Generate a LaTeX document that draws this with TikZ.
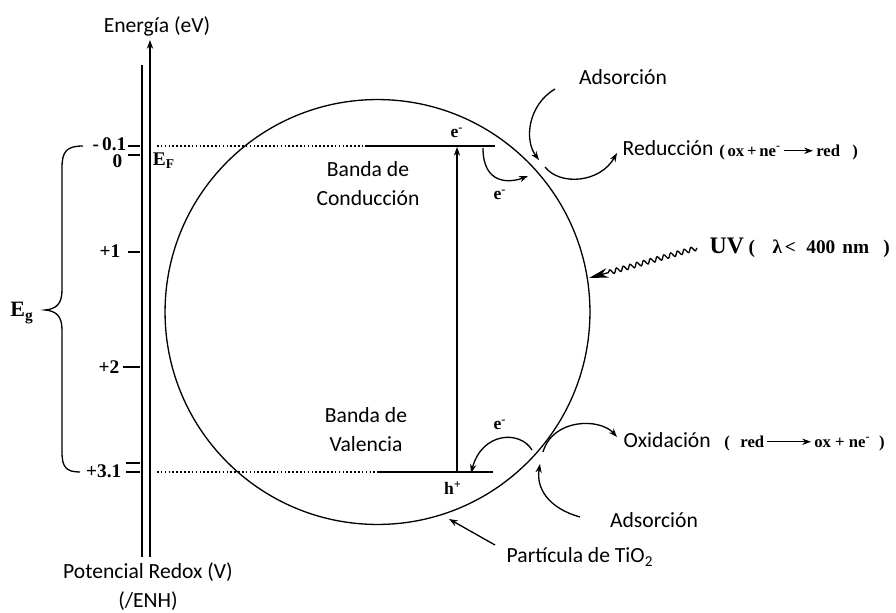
\documentclass[tikz,border=0pt]{standalone}
\usepackage{fontspec}
\setmainfont{Carlito}
\newfontfamily\timesfont{Liberation Serif}
\usetikzlibrary{positioning,arrows.meta,decorations.pathmorphing}

\begin{document}
\begin{tikzpicture}[x=0.02cm,y=-0.02cm,line width=0.75pt,
  txt/.style={font=\fontsize{12.3}{16.5}\selectfont,align=center},
  num/.style={font=\timesfont\bfseries\fontsize{11}{13}\selectfont,inner sep=0pt},
  chg/.style={font=\timesfont\bfseries\fontsize{10}{12}\selectfont,inner sep=0pt},
  eqn/.style={font=\timesfont\bfseries\fontsize{9.5}{11}\selectfont,inner xsep=1.5pt,inner ysep=0pt,text height=1.5ex,text depth=0.25ex},
  tip/.style={-{Stealth[length=5pt,width=3.6pt]}},
  level/.style={dash pattern=on 0.9pt off 1.3pt,line width=0.6pt}]

\useasboundingbox (0,0) rectangle (896,612);

  % Draw axes
  \coordinate (axbot) at (150,557);
  \coordinate (axtop) at (150,40);
  \draw[tip] (axbot) -- (axtop);
  \draw (142,65) -- (142,557);
  \node[txt] (energy) at (157,26) {Energía (eV)};
  \node[txt] (redox) at (148,587) {Potencial Redox (V)\\(/ENH)};
  % ticks and values
  \foreach \y/\xa in {146/128,155/128,252/128,367/123,463/126,472/126}
    \draw (\xa,\y) -- (140,\y);
  \node[num,anchor=east] (vm01) at (127,144) {-\,0.1};
  \node[num,anchor=east] (vzero) at (123,161) {0};
  \node[num,anchor=east] (vone) at (121,251) {+1};
  \node[num,anchor=east] (vtwo) at (120,367) {+2};
  \node[num,anchor=east] (vthree) at (122,471) {+3.1};
  \node[num] (ef) at (164,161) {E\textsubscript{F}};
  % band gap brace
  \draw (83,146) .. controls (66,146) and (62,152) .. (62,168) -- (62,290)
        .. controls (62,303) and (57,309) .. (45,310)
        .. controls (57,311) and (62,317) .. (62,330) -- (62,452)
        .. controls (62,467) and (66,472) .. (80,472);
  \node[num,font=\timesfont\bfseries\fontsize{12.5}{14}\selectfont] (eg) at (22,313) {E\textsubscript{g}};

  % draw particle
  \node[draw,circle,minimum size=8.5cm,inner sep=0pt] (tio2) at (377.5,312) {};

  % bands
  \coordinate (cbL) at (157,146);
  \coordinate (cbM) at (365,146);
  \coordinate (cbR) at (495,146);
  \draw[level] (cbL) -- (cbM);
  \draw (cbM) -- (cbR);
  \coordinate (vbL) at (157,472);
  \coordinate (vbM) at (377,472);
  \coordinate (vbR) at (493,472);
  \draw[level] (vbL) -- (vbM);
  \draw (vbM) -- (vbR);
  \coordinate (exbot) at (457,472);
  \coordinate (extop) at (457,147);
  \draw[tip] (exbot) -- (extop);
  \node[txt] (cb) at (368,184) {Banda de\\Conducción};
  \node[txt] (vb) at (366,430) {Banda de\\Valencia};
  \node[chg] (ecb) at (457,133) {e\textsuperscript{-}};
  \node[chg] (ecbout) at (500,195) {e\textsuperscript{-}};
  \node[chg] (evb) at (500,425) {e\textsuperscript{-}};
  \node[chg] (hvb) at (453,488) {h\textsuperscript{+}};

  % electron transfer
  \coordinate (cbgo) at (483,148);
  \coordinate (cbout) at (528,176);
  \draw[tip] (cbgo) .. controls (483,185) and (510,183) .. (cbout);
  \coordinate (vbin) at (532,450);
  \coordinate (vbgo) at (471,473);
  \draw[tip] (vbin) .. controls (520,430) and (482,432) .. (vbgo);

  % reduction
  \node[txt] (adsred) at (623,77) {Adsorción};
  \coordinate (adsredA) at (555,89);
  \coordinate (adsredB) at (539,160);
  \draw[tip] (adsredA) .. controls (528,105) and (524,140) .. (adsredB);
  \coordinate (redA) at (545,167);
  \coordinate (redB) at (617,153);
  \draw[tip] (redA) .. controls (560,186) and (600,183) .. (redB);
  \node[txt,anchor=base west,inner sep=0pt] (redtxt) at (622,155) {Reducción};
  \node[eqn,anchor=base west] (redlhs) at (716,156) {(\,ox\,+\,ne\textsuperscript{-}};
  \node[eqn,anchor=base west] (redrhs) at (813,156) {red\hspace{7pt})};
  \draw[tip] (redlhs) -- (redrhs);

  % light
  \node[font=\timesfont\bfseries\fontsize{13.5}{16}\selectfont,anchor=base west,inner sep=0pt] (uv) at (709,253) {UV};
  \node[font=\timesfont\bfseries\fontsize{11}{13}\selectfont,anchor=base west,inner sep=0pt] (lam) at (748,253)
    {(\hspace{10pt}λ\hspace{1.5pt}<\hspace{6pt}400\hspace{4pt}nm\hspace{8pt})};
  \coordinate (uvA) at (697,248);
  \coordinate (uvB) at (589,278);
  \draw[decorate,decoration={snake,amplitude=1.3pt,segment length=4pt,post length=11pt},
        -{Stealth[length=11pt,width=5.5pt]}] (uvA) -- (uvB);

  % oxidation
  \coordinate (oxA) at (543,452);
  \coordinate (oxB) at (617,437);
  \draw[tip] (oxA) .. controls (553,418) and (600,418) .. (oxB);
  \node[txt,anchor=base west,inner sep=0pt] (oxtxt) at (623,447) {Oxidación};
  \node[eqn,anchor=base west] (oxlhs) at (721,447) {(\hspace{6pt}red};
  \node[eqn,anchor=base west] (oxrhs) at (811,447) {ox + ne\textsuperscript{-}\hspace{5pt})};
  \draw[tip] (oxlhs) -- (oxrhs);
  \node[txt] (adsox) at (654,520) {Adsorción};
  \coordinate (adsoxA) at (580,517);
  \coordinate (adsoxB) at (540,464);
  \draw[tip] (adsoxA) .. controls (548,508) and (536,488) .. (adsoxB);

  % particle label
  \node[txt] (part) at (580,557) {Partícula de TiO\textsubscript{2}};
  \coordinate (partA) at (495,545);
  \coordinate (partB) at (449,519);
  \draw[tip] (partA) -- (partB);
\end{tikzpicture}
\end{document}
